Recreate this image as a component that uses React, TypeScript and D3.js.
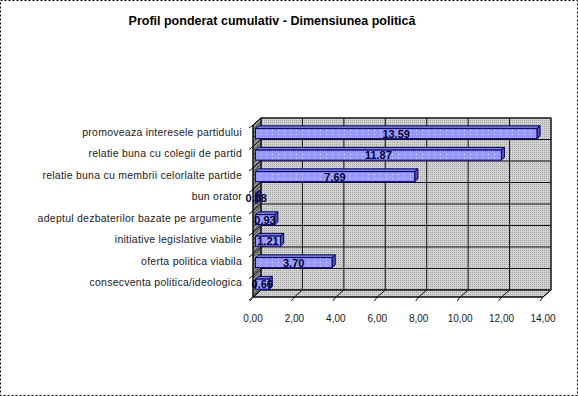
import React from "react";
import * as d3 from "d3";

// categories top to bottom, as shown
const categories = [
  "promoveaza interesele partidului",
  "relatie buna cu colegii de partid",
  "relatie buna cu membrii celorlalte partide",
  "bun orator",
  "adeptul dezbaterilor bazate pe argumente",
  "initiative legislative viabile",
  "oferta politica viabila",
  "consecventa politica/ideologica",
];
const values = [13.59, 11.87, 7.69, 0.08, 0.93, 1.21, 3.7, 0.66];
const xTicks = [0, 2, 4, 6, 8, 10, 12, 14];
const title = "Profil ponderat cumulativ - Dimensiunea politică";

const W = 578;
const H = 396;
const font = "Arial, 'Liberation Sans', sans-serif";

export default function App() {
  // front plane of the 3d box
  const x = d3.scaleLinear().domain([0, 14]).range([253, 543]);
  const y = d3.scaleBand().domain(categories).range([125, 297]);
  const DX = 8;
  const DY = -7;
  const yTop = 125;
  const yBot = 297;
  const x0 = x(0);
  const x1 = x(14);

  const fmt = (v: number) => d3.format(".2f")(v).replace(".", ",");
  const pts = (p: number[][]) => p.map((q) => q.join(",")).join(" ");

  // bar depth inside the band
  const f0 = 0.3;
  const f1 = 0.7;
  const barH = 10;

  const bounds = categories.map((c) => y(c)!).concat([yBot]);

  return (
    <svg
      width={W}
      height={H}
      style={{ position: "absolute", left: 0, top: 0, background: "#fff" }}
      fontFamily={font}
    >
      <defs>
        <pattern id="dots" width="2" height="2" patternUnits="userSpaceOnUse">
          <rect width="2" height="2" fill="#d2d2d2" />
          <rect width="1" height="1" fill="#a4a4a4" />
        </pattern>
        <pattern id="hatch" width="3" height="3" patternUnits="userSpaceOnUse" patternTransform="rotate(45)">
          <rect width="3" height="3" fill="#9a9a9a" />
          <rect width="1" height="3" fill="#444" />
        </pattern>
        <pattern id="bardots" width="6" height="4" patternUnits="userSpaceOnUse">
          <rect width="6" height="4" fill="#9999ff" />
          <rect x="2" y="2" width="1" height="1" fill="#e0e0ff" />
        </pattern>
      </defs>

      <rect x={0.5} y={0.5} width={W - 1} height={H - 1} fill="none" stroke="#000" strokeDasharray="2,2" />

      <text x={272} y={25} textAnchor="middle" fontSize={12.5} fontWeight="bold" fill="#000">
        {title}
      </text>

      {/* back wall */}
      <rect x={x0 + DX} y={yTop + DY} width={x1 - x0} height={yBot - yTop} fill="url(#dots)" stroke="#222" strokeWidth={1} />
      {/* left side wall */}
      <polygon
        points={pts([[x0, yTop], [x0 + DX, yTop + DY], [x0 + DX, yBot + DY], [x0, yBot]])}
        fill="url(#hatch)"
        stroke="#222"
      />
      {/* floor */}
      <polygon
        points={pts([[x0, yBot], [x1, yBot], [x1 + DX, yBot + DY], [x0 + DX, yBot + DY]])}
        fill="url(#dots)"
        stroke="#222"
      />

      {/* grid */}
      {xTicks.map((t) => (
        <g key={t} stroke="#111" strokeWidth={1}>
          <line x1={x(t) + DX} x2={x(t) + DX} y1={yTop + DY} y2={yBot + DY} />
          <line x1={x(t)} x2={x(t) + DX} y1={yBot} y2={yBot + DY} />
          <line x1={x(t)} x2={x(t) - 3} y1={yBot} y2={yBot + 4} />
        </g>
      ))}
      {bounds.map((b, i) => (
        <g key={i} stroke="#111" strokeWidth={1}>
          <line x1={x0 + DX} x2={x1 + DX} y1={b + DY} y2={b + DY} />
          <line x1={x0} x2={x0 + DX} y1={b} y2={b + DY} />
          <line x1={x0} x2={x0 - 4} y1={b} y2={b + 3} />
        </g>
      ))}
      <line x1={x0} x2={x0} y1={yTop} y2={yBot} stroke="#000" />
      <line x1={x0} x2={x1} y1={yBot} y2={yBot} stroke="#000" />

      {/* bars */}
      {categories.map((c, i) => {
        const v = values[i];
        const cy = y(c)! + y.bandwidth() / 2;
        const ox = DX * f0;
        const oy = DY * f0;
        const bx = DX * (f1 - f0);
        const by = DY * (f1 - f0);
        const l = x(0) + ox;
        const r = x(v) + ox;
        const t = cy + oy - barH / 2;
        const b = cy + oy + barH / 2;
        return (
          <g key={c} stroke="#000066" strokeWidth={1}>
            <polygon points={pts([[l, t], [l + bx, t + by], [r + bx, t + by], [r, t]])} fill="#7a7ad8" />
            <polygon points={pts([[r, t], [r + bx, t + by], [r + bx, b + by], [r, b]])} fill="#55559a" />
            <rect x={l} y={t} width={Math.max(r - l, 0.5)} height={barH} fill="url(#bardots)" />
            <text
              x={(l + r) / 2}
              y={cy + oy}
              dy="0.36em"
              textAnchor="middle"
              fontSize={11}
              fontWeight="bold"
              fill="#000033"
              stroke="none"
            >
              {d3.format(".2f")(v)}
            </text>
          </g>
        );
      })}

      {/* category labels */}
      {categories.map((c) => (
        <text
          key={c}
          x={242}
          y={y(c)! + y.bandwidth() / 2 - 3.5}
          dy="0.35em"
          textAnchor="end"
          fontSize={10.5}
          letterSpacing={0.25}
          fill="#1a1a1a"
        >
          {c}
        </text>
      ))}

      {/* x tick labels */}
      {xTicks.map((t) => (
        <text key={t} x={x(t)} y={322} textAnchor="middle" fontSize={10} fill="#1a1a1a">
          {fmt(t)}
        </text>
      ))}
    </svg>
  );
}
